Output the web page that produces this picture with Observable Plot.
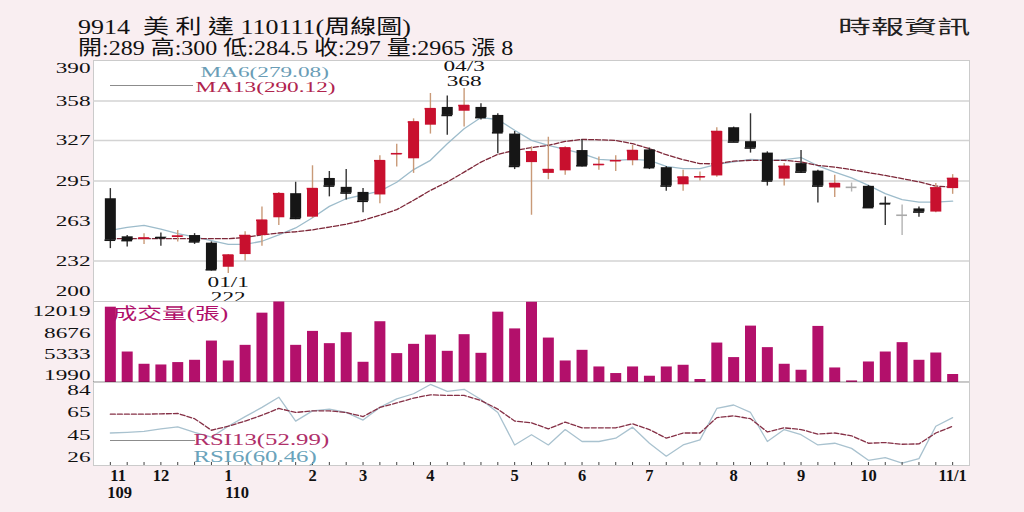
<!DOCTYPE html>
<html><head><meta charset="utf-8">
<script src="https://cdn.jsdelivr.net/npm/d3@7"></script>
<script src="https://cdn.jsdelivr.net/npm/@observablehq/plot@0.6"></script>
<style>
body{margin:0;background:#f9eef1;}
#root{position:relative;width:1024px;height:512px;background:#f9eef1;overflow:hidden;font-family:"Liberation Serif","Noto Sans CJK TC",serif;}
.abs{position:absolute;}
.title{left:78px;font-size:20px;line-height:22px;color:#111;transform-origin:left center;white-space:pre;}
.brand{left:838px;top:16px;font-family:"Noto Sans CJK TC",sans-serif;font-size:19px;line-height:20px;color:#222;transform:scaleX(1.74);transform-origin:left center;white-space:pre;}
.swatch{height:1px;background:#8c8c8c;}
</style></head><body><div id="root"></div>
<script>
// ---------- data ----------
const titleLine1 = "9914  美 利 達 110111(周線圖)";
const titleLine2 = "開:289 高:300 低:284.5 收:297 量:2965 漲 8";
const brand = "時報資訊";

const opens  = [281,251,249,250.7,251,252,246,227,237,252,266,285,266.5,297,290,286,284,316,312.5,339,353,350,353,346.7,332,309.5,301,303,319,307.5,310.5,311,319.5,305.5,292,298,299,337,326,317,296.5,308.7,302.8,289.5,290,290.8,277.5,268,273,270.5,289];
const highs  = [289,252,253.5,254,256,253.5,247,237,255,274.5,286,294,307,302.5,304,289,315,324,344,364,362,368,356,348,334,322,329.5,322,327.5,314,315,323,321,306.5,303.5,302,337,337.5,348,318,308.7,319,303.4,299.5,293.4,291.5,282.4,276,274.5,293,300];
const lows   = [241.7,243,245,243.5,247,245,224,222,232,243.5,260,264.5,265.5,282.5,280,270,277,306,301,332,331,337.5,343,316.5,304,268,296,299.5,306,303.5,302.5,307,304,287,287,295,298,325.5,317,291,291,301,277.6,282,286.3,274,260,252,266.5,270,284.5];
const closes = [248.3,248,250,250.2,251.5,247,225,236.5,252,264,285,265.5,289,291,285.5,279,311,316.5,341.5,352,346.7,354.5,345,333,306.5,318,304,321,307,308,311,319,305.5,291,298,298.3,334,325.7,321,295,306.5,302,291,293,290,274,277,268,270.5,289.5,297];
const ma6  = [256,258.5,260,257,253.5,251,248,245,245,247.5,252.5,258,266,275,281,284,287,294,304,311.3,324.4,336.2,345,343.5,335,327,323,320,316.5,312,311.3,312,311.3,306.5,304.7,304.7,308.1,310,312,311.3,311.8,313.5,307,302,297.5,291.6,285,280.3,278.4,278.4,279.08];
const ma13 = [249.5,249.5,249.5,249.5,249.5,249.5,249.5,249.5,250.5,252.5,254,255,256.5,258.7,260.9,264,268,272.4,279.8,287.6,294.2,302,309.9,316,319.1,321.3,323.1,326.2,327.8,327.5,327,324.4,320.5,315.7,311.8,308.7,308.5,310.7,311.3,311.3,311.3,310,307.3,306,304,301.6,299.4,296.9,294.3,291,290.12];
const volumes = [12693,5641,3714,3604,3980,4340,7365,4231,6691,11752,13500,6691,8885,6957,8681,4027,10405,5390,6848,8305,5751,8368,5437,11909,9276,13476,7835,4231,5907,3291,2256,3291,1833,3291,3557,1316,7051,4764,9715,6331,3714,2773,9668,3134,1097,4074,5641,7114,4340,5484,2100];
const rsi13 = [63.5,63.5,63.5,63.8,64.1,59.6,49.5,53,57.5,62.6,68.5,65,66.4,66.4,65,61.4,69.4,73.3,77.5,80.4,79.8,79.8,75.4,67.9,57.5,56,50.7,56.6,51.6,51.6,51.6,55.1,50.1,42.6,47.1,47.1,60.5,62,59.6,48,51.6,50.1,46.2,47.1,44.7,38.2,38.8,37.3,37.6,47.1,52.99];
const rsi6  = [47.1,47.7,48.6,50.7,52.5,47.7,43.5,53,61.4,69.4,78.3,57.5,66.4,67.9,65,58.4,69.4,76.9,81.3,89.4,83.4,85.2,76.3,65,36.7,45.6,36.7,50.1,39.7,39.7,42.6,52.2,38.2,26.9,36.7,41.1,68.5,71.5,65,39.7,50.1,45.6,36.7,38.2,33.7,23.3,25.7,20.9,24.8,53,60.46];

const priceTicks = [200,232,263,295,327,358,390];
const priceGrid  = [232,295,327,358];
const volTicks   = [1990,5333,8676,12019];
const rsiTicks   = [26,45,65,84];
const monthIdx    = [0,3,7,12,15,19,24,28,32,37,41,45,50];
const monthLabels = ["11","12","1","2","3","4","5","6","7","8","9","10","11/1"];
const yearIdx     = [0,7];
const yearLabels  = ["109","110"];
const extremeIdx    = [21,7];
const extremeDates  = ["04/3","01/1"];
const extremePrices = [368,222];
const maNames  = ["MA6","MA13"];
const maLast   = [279.08,290.12];
const rsiNames = ["RSI13","RSI6"];
const rsiLast  = [52.99,60.46];
const volName  = "成交量(張)";

// ---------- setup ----------
const FONT = '"Liberation Serif","Noto Sans CJK TC",serif';
const STRETCH = 1.55;
const W = 1024, ML = 93, MR = 55;
const xDom = [-1, 51];
const rows = closes.map((c, i) => ({i, open: opens[i], high: highs[i], low: lows[i], close: c, ma6: ma6[i], ma13: ma13[i], v: volumes[i], r13: rsi13[i], r6: rsi6[i]}));
const bodyColor = d => d.close > d.open ? "#c8102e" : d.close < d.open ? "#161616" : "#a9a9a9";
const wickColor = d => d.close > d.open ? "#c99a78" : d.close < d.open ? "#333333" : "#b3b3b3";
const baseStyle = {background: "transparent", overflow: "visible", fontFamily: FONT};
const S = {ariaDescription: "stretch", ariaLabel: () => "stretch"};

function stretch(svg, k) {
  const set = new Set([...svg.querySelectorAll('g[aria-description="stretch"] text, text[aria-label="stretch"]')]);
  set.forEach(t => {
    const tr = t.getAttribute("transform") || "";
    const x = t.getAttribute("x");
    let pre = "";
    if (x != null && !isNaN(+x)) { pre = ` translate(${+x},0)`; t.removeAttribute("x"); }
    t.setAttribute("transform", `${tr}${pre} scale(${k},1)`);
  });
}
const root = document.getElementById("root");
function place(el, top) { el.style.position = "absolute"; el.style.left = "0px"; el.style.top = top + "px"; root.appendChild(el); }
function div(cls, text, style) { const d = document.createElement("div"); d.className = "abs " + cls; d.textContent = text; Object.assign(d.style, style || {}); root.appendChild(d); return d; }

// ---------- price panel ----------
const ann = extremeIdx.map((i, k) => ({i, date: extremeDates[k], price: extremePrices[k]}));
const maLeg = maNames.map((n, k) => `${n}(${maLast[k].toFixed(2)})`);
const price = Plot.plot({
  width: W, height: 265, marginTop: 20, marginBottom: 4, marginLeft: ML, marginRight: MR,
  style: baseStyle,
  x: {domain: xDom, axis: null},
  y: {domain: [200, 390], axis: null},
  color: {type: "identity"},
  marks: [
    Plot.frame({fill: "white", stroke: "#cbcbcb"}),
    Plot.ruleY(priceGrid, {stroke: "#d3d3d3", strokeWidth: 1.5}),
    Plot.line(rows, {x: "i", y: "ma6", stroke: "#9dbccb", strokeWidth: 1.3}),
    Plot.line(rows, {x: "i", y: "ma13", stroke: "#7d2738", strokeWidth: 1.3, strokeDasharray: "5,2"}),
    Plot.ruleX(rows, {x: "i", y1: "low", y2: "high", stroke: wickColor, strokeWidth: 1.4}),
    Plot.ruleX(rows, {x: "i", y1: "open", y2: "close", stroke: bodyColor, strokeWidth: 11}),
    Plot.ruleY(rows, {y: "close", x1: d => d.i - 0.32, x2: d => d.i + 0.32, stroke: bodyColor, strokeWidth: 1.6}),
    Plot.text(ann.filter(d => d.price > 300), {x: "i", y: "price", text: d => `${d.date}\n${d.price}`, lineAnchor: "bottom", dy: -2, fontSize: 15, lineHeight: 1.05, fill: "#111", ...S}),
    Plot.text(ann.filter(d => d.price <= 300), {x: "i", y: "price", text: d => `${d.date}\n${d.price}`, lineAnchor: "top", dy: 3, fontSize: 15, lineHeight: 1.0, fill: "#111", ...S}),
    Plot.text([maLeg[0]], {frameAnchor: "top-left", text: d => d, dx: 107, dy: 12, textAnchor: "start", lineAnchor: "middle", fontSize: 15, fill: "#6a9db6", ...S}),
    Plot.text([maLeg[1]], {frameAnchor: "top-left", text: d => d, dx: 102, dy: 26.5, textAnchor: "start", lineAnchor: "middle", fontSize: 15, fill: "#b0244e", ...S}),
    Plot.text(priceTicks.slice(1, -1), {y: d => d, text: d => String(d), frameAnchor: "left", textAnchor: "end", dx: -3, fontSize: 15, fill: "#111", ...S}),
    Plot.text(priceTicks.slice(-1), {y: d => d, text: d => String(d), frameAnchor: "left", textAnchor: "end", dx: -3, dy: 8, fontSize: 15, fill: "#111", ...S}),
    Plot.text(priceTicks.slice(0, 1), {y: d => d, text: d => String(d), frameAnchor: "left", textAnchor: "end", dx: -3, dy: -10, fontSize: 15, fill: "#111", ...S})
  ]
});
stretch(price, STRETCH);
place(price, 40);

// ---------- volume panel ----------
const volDom = [846, 13586];
const vol = Plot.plot({
  width: W, height: 91, marginTop: 5, marginBottom: 5, marginLeft: ML, marginRight: MR,
  style: baseStyle,
  x: {domain: xDom, axis: null},
  y: {domain: volDom, axis: null},
  marks: [
    Plot.frame({fill: "white", stroke: "#cbcbcb"}),
    Plot.ruleX(rows, {x: "i", y: "v", stroke: "#b3106b", strokeWidth: 11, clip: true}),
    Plot.ruleY([volDom[0]], {stroke: "#222", strokeWidth: 1.6}),
    Plot.text([volName], {frameAnchor: "top-left", text: d => d, dx: 19, dy: 12.5, textAnchor: "start", lineAnchor: "middle", fontSize: 16, fill: "#b0106a", ...S}),
    Plot.text(volTicks, {y: d => d, text: d => String(d), frameAnchor: "left", textAnchor: "end", dx: -3, fontSize: 15, fill: "#111", ...S})
  ]
});
stretch(vol, STRETCH);
place(vol, 296);

// ---------- RSI panel ----------
const rsiLeg = rsiNames.map((n, k) => `${n}(${rsiLast[k].toFixed(2)})`);
const months = monthIdx.map((i, k) => ({i, label: monthLabels[k]}));
const years = yearIdx.map((i, k) => ({i, label: yearLabels[k]}));
const rsi = Plot.plot({
  width: W, height: 135, marginTop: 5, marginBottom: 47, marginLeft: ML, marginRight: MR,
  style: baseStyle,
  x: {domain: xDom, axis: null},
  y: {domain: [18.8, 91.1], axis: null},
  marks: [
    Plot.frame({fill: "white", stroke: "#cbcbcb"}),
    Plot.line(rows, {x: "i", y: "r6", stroke: "#a9c2cf", strokeWidth: 1.3}),
    Plot.line(rows, {x: "i", y: "r13", stroke: "#853046", strokeWidth: 1.3, strokeDasharray: "5,2"}),
    Plot.ruleX(rows, {x: "i", insetTop: 80, stroke: "#444", strokeWidth: 1}),
    Plot.text([rsiLeg[0]], {frameAnchor: "top-left", text: d => d, dx: 100, dy: 57.7, textAnchor: "start", lineAnchor: "middle", fontSize: 16, fill: "#b0306a", ...S}),
    Plot.text([rsiLeg[1]], {frameAnchor: "top-left", text: d => d, dx: 100, dy: 74.3, textAnchor: "start", lineAnchor: "middle", fontSize: 16, fill: "#6aa3bb", ...S}),
    Plot.text(rsiTicks, {y: d => d, text: d => String(d), frameAnchor: "left", textAnchor: "end", dx: -3, fontSize: 15, fill: "#111", ...S}),
    Plot.text(months.slice(0, 1), {x: "i", text: "label", frameAnchor: "bottom", textAnchor: "start", dy: 10, lineAnchor: "middle", fontSize: 16.5, fontWeight: "bold", fill: "#111"}),
    Plot.text(months.slice(1), {x: "i", text: "label", frameAnchor: "bottom", textAnchor: "middle", dy: 10, lineAnchor: "middle", fontSize: 16.5, fontWeight: "bold", fill: "#111"}),
    Plot.text(years, {x: "i", text: "label", frameAnchor: "bottom", textAnchor: "start", dx: -3, dy: 27, lineAnchor: "middle", fontSize: 16.5, fontWeight: "bold", fill: "#111"})
  ]
});
stretch(rsi, STRETCH);
place(rsi, 377);

// ---------- header & legend swatches ----------
div("title", titleLine1, {top: "16px", transform: "scaleX(1.3)"});
div("title", titleLine2, {top: "37px", transform: "scaleX(1.2)"});
div("brand", brand);
div("swatch", "", {left: "110px", top: "85px", width: "83px"});
div("swatch", "", {left: "110px", top: "440px", width: "85px"});
</script></body></html>
